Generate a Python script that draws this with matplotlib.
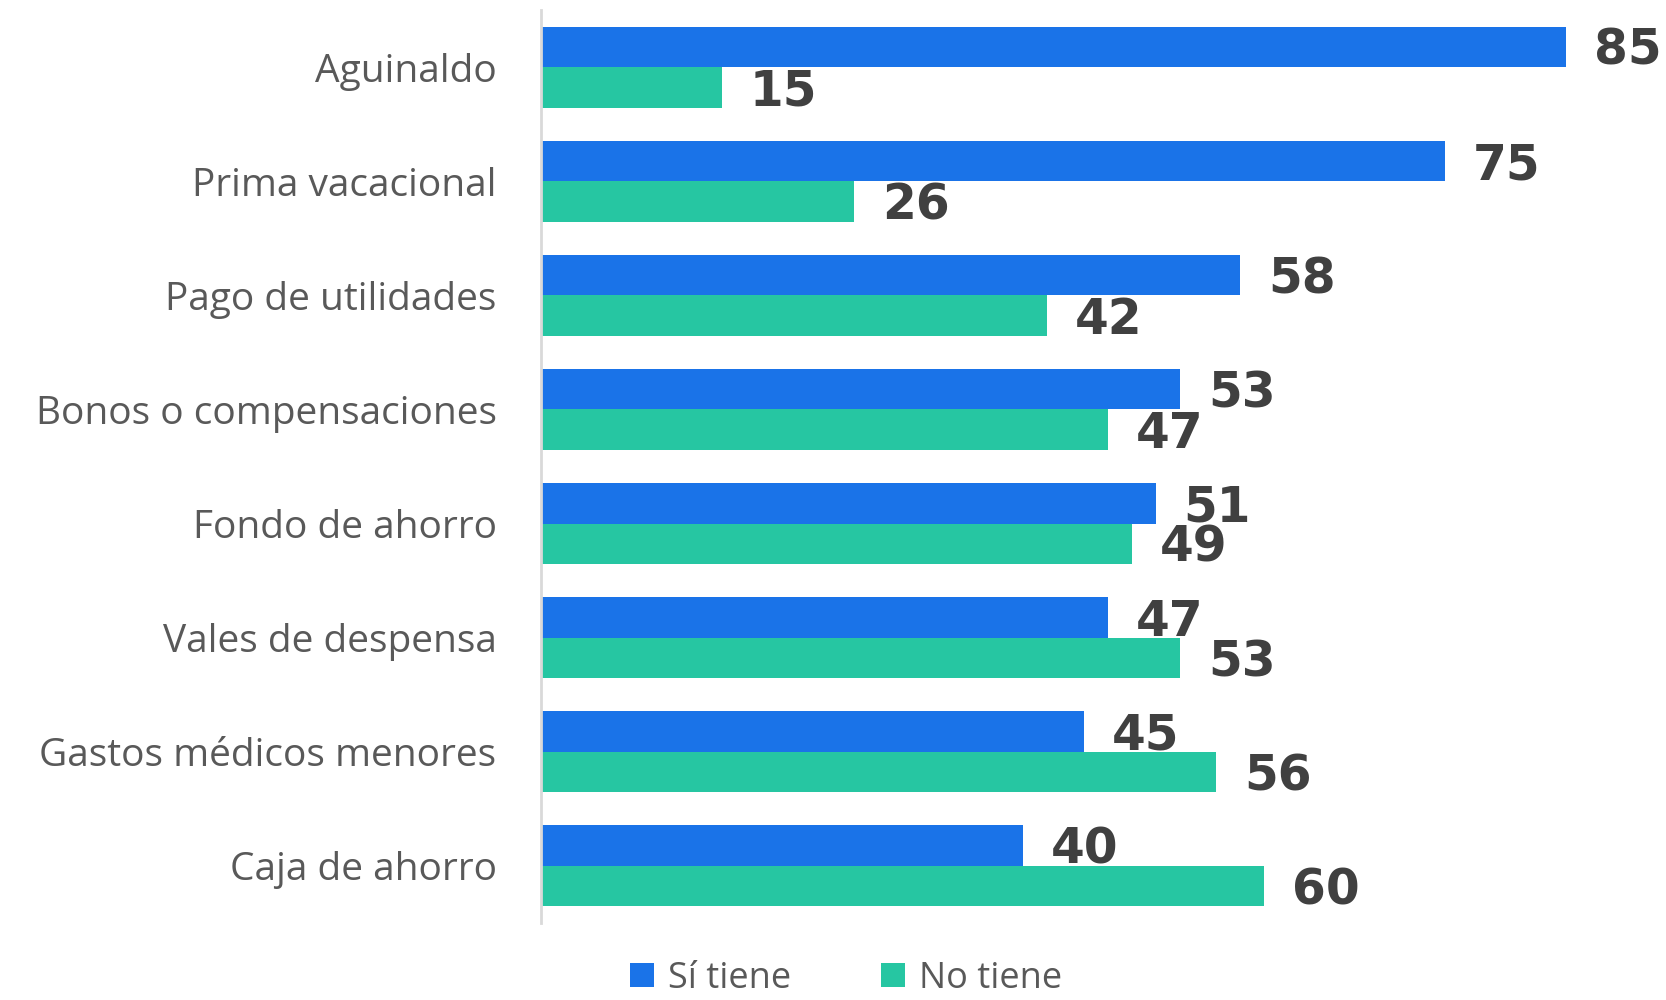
import numpy as np
import matplotlib.pyplot as plt

categories = ["Aguinaldo", "Prima vacacional", "Pago de utilidades",
              "Bonos o compensaciones", "Fondo de ahorro", "Vales de despensa",
              "Gastos médicos menores", "Caja de ahorro"]
si_tiene = [85, 75, 58, 53, 51, 47, 45, 40]
no_tiene = [15, 26, 42, 47, 49, 53, 56, 60]
series_names = ["Sí tiene", "No tiene"]

blue = "#1A73E8"
green = "#26C6A2"
txt = "#404040"

plt.rcParams['font.family'] = ['Open Sans', 'DejaVu Sans']

fig = plt.figure(figsize=(16.66, 10), dpi=100)
ax = fig.add_axes([0.3247, 0.077, 0.6753, 0.913])

y = np.arange(len(categories))
h = 0.355
b1 = ax.barh(y - h / 2, si_tiene, height=h, color=blue, label=series_names[0])
b2 = ax.barh(y + h / 2, no_tiene, height=h, color=green, label=series_names[1])

for bars, vals in ((b1, si_tiene), (b2, no_tiene)):
    for bar, v in zip(bars, vals):
        ax.annotate(str(v), (bar.get_width(), bar.get_y() + bar.get_height() / 2),
                    xytext=(20, -3), textcoords="offset points", va="center", ha="left",
                    fontsize=35, fontweight="bold", family="DejaVu Sans",
                    color=txt, clip_on=False)

ax.set_xlim(0, 93.3)
ax.set_ylim(len(categories) - 0.5, -0.5)
ax.set_yticks(y)
ax.set_yticklabels(categories, fontsize=28, color="#595959")
ax.tick_params(axis="y", length=0, pad=32)
ax.set_xticks([])
for s in ["top", "right", "bottom"]:
    ax.spines[s].set_visible(False)
ax.spines["left"].set_color("#d9d9d9")
ax.spines["left"].set_linewidth(2)

fig.legend(handles=[b1, b2], loc="center", bbox_to_anchor=(0.508, 0.021), ncol=2,
           frameon=False, fontsize=26, labelcolor="#595959", handlelength=0.65,
           handleheight=0.65, handletextpad=0.4, columnspacing=2.5)

fig.savefig("out.png", dpi=100)
